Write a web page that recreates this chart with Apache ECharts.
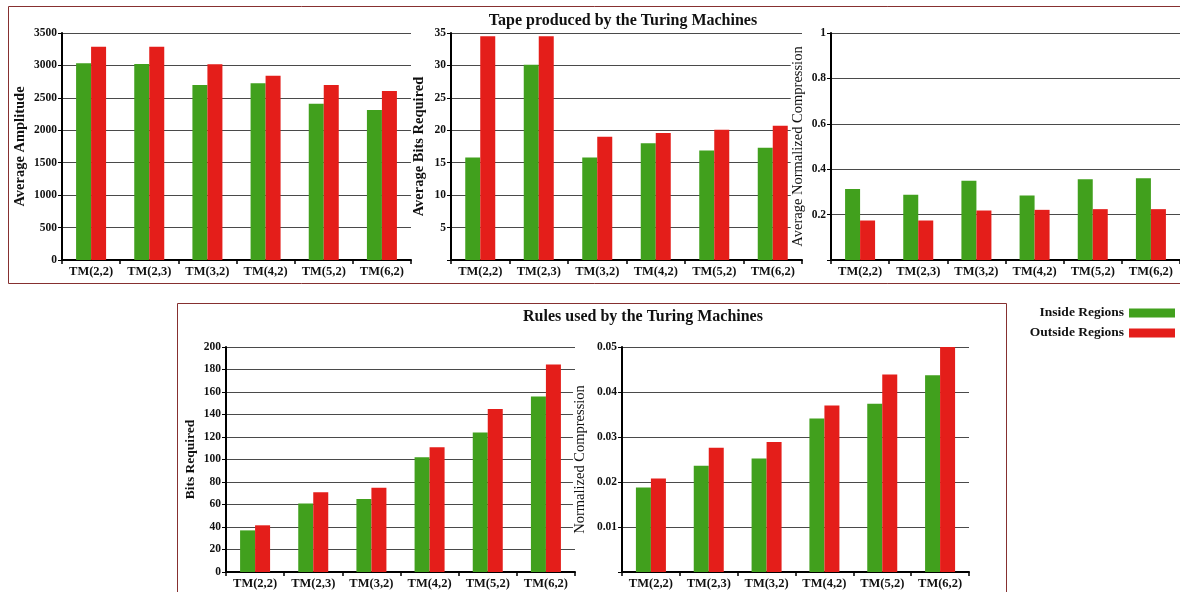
<!DOCTYPE html>
<html>
<head>
<meta charset="utf-8">
<title>Turing Machines: Inside vs Outside Regions</title>
<script src="https://cdn.jsdelivr.net/npm/echarts@6/dist/echarts.min.js"></script>
<style>
  html, body { margin: 0; padding: 0; background: #ffffff; }
  #chart { width: 1180px; height: 592px; }
</style>
</head>
<body>
<div id="chart"></div>
<script>
// Turing machine classes shown on every category axis
const machines = ['TM(2,2)', 'TM(2,3)', 'TM(3,2)', 'TM(4,2)', 'TM(5,2)', 'TM(6,2)'];
const seriesNames = ['Inside Regions', 'Outside Regions'];

// Tape produced by the machines
const tapeAmplitudeInside  = [3033, 3022, 2700, 2724, 2410, 2313];
const tapeAmplitudeOutside = [3289, 3289, 3017, 2840, 2700, 2606];
const tapeBitsInside  = [15.8, 30.1, 15.8, 18.0, 16.9, 17.3];
const tapeBitsOutside = [34.5, 34.5, 19.0, 19.6, 20.1, 20.7];
const tapeCompressionInside  = [0.313, 0.287, 0.349, 0.284, 0.356, 0.360];
const tapeCompressionOutside = [0.174, 0.174, 0.218, 0.221, 0.224, 0.224];

// Rules used by the machines
const ruleBitsInside  = [37, 61, 65, 102, 124, 156];
const ruleBitsOutside = [41.5, 71, 75, 111, 145, 184.5];
const ruleCompressionInside  = [0.0188, 0.0236, 0.0252, 0.0341, 0.0374, 0.0437];
const ruleCompressionOutside = [0.0208, 0.0276, 0.0289, 0.0370, 0.0439, 0.0500];

const FONT = '"Liberation Serif", "DejaVu Serif", serif';
const GREEN = '#41a01d';
const RED = '#e41e1a';
const FRAME = '#863030';

// One entry per small bar chart
const panels = [
  { grid: { left: 62, top: 33, width: 349, height: 227 },
    name: 'Average Amplitude', nameGap: 31, nameWeight: 'bold', nameSize: 14.5,
    max: 3500, interval: 500, showZero: true, fmt: v => String(v),
    inside: tapeAmplitudeInside, outside: tapeAmplitudeOutside },
  { grid: { left: 451, top: 33, width: 351, height: 227 },
    name: 'Average Bits Required', nameGap: 22, nameWeight: 'bold', nameSize: 14.5,
    max: 35, interval: 5, showZero: false, fmt: v => String(v),
    inside: tapeBitsInside, outside: tapeBitsOutside },
  { grid: { left: 831, top: 33, width: 349, height: 227 },
    name: 'Average Normalized Compression', nameGap: 22, nameWeight: 'normal', nameSize: 14.5,
    max: 1, interval: 0.2, showZero: false, fmt: v => String(+v.toFixed(1)),
    inside: tapeCompressionInside, outside: tapeCompressionOutside },
  { grid: { left: 226, top: 347, width: 349, height: 225 },
    name: 'Bits Required', nameGap: 23, nameWeight: 'bold', nameSize: 13.5,
    max: 200, interval: 20, showZero: true, fmt: v => String(v),
    inside: ruleBitsInside, outside: ruleBitsOutside },
  { grid: { left: 622, top: 347, width: 347, height: 225 },
    name: 'Normalized Compression', nameGap: 32, nameWeight: 'normal', nameSize: 14.5,
    max: 0.05, interval: 0.01, showZero: false, fmt: v => v.toFixed(2),
    inside: ruleCompressionInside, outside: ruleCompressionOutside }
];

const grids = [], xAxes = [], yAxes = [], series = [];
panels.forEach((p, i) => {
  grids.push(Object.assign({ containLabel: false }, p.grid));
  xAxes.push({
    type: 'category', gridIndex: i, data: machines,
    axisLine: { lineStyle: { color: '#000', width: 2 } },
    axisTick: { show: true, length: 4, lineStyle: { color: '#000', width: 1.5 } },
    axisLabel: { color: '#111', fontFamily: FONT, fontWeight: 'bold', fontSize: 12.5, margin: 5 }
  });
  yAxes.push({
    type: 'value', gridIndex: i, min: 0, max: p.max, interval: p.interval,
    name: p.name, nameLocation: 'middle', nameGap: p.nameGap,
    nameTextStyle: {
      color: '#111', fontFamily: FONT, fontWeight: p.nameWeight, fontSize: p.nameSize,
      backgroundColor: '#ffffff', padding: [0, 0, 2, 0]
    },
    axisLine: { show: true, lineStyle: { color: '#000', width: 2 } },
    axisTick: { show: true, length: 4, lineStyle: { color: '#000', width: 1 } },
    axisLabel: {
      color: '#111', fontFamily: FONT, fontWeight: 'bold', fontSize: 11.5, margin: 5,
      formatter: v => (v === 0 && !p.showZero) ? '' : p.fmt(v)
    },
    splitLine: { show: true, lineStyle: { color: '#4a4a4a', width: 1 } }
  });
  [p.inside, p.outside].forEach((vals, k) => {
    series.push({
      type: 'bar', name: seriesNames[k], xAxisIndex: i, yAxisIndex: i,
      data: vals, barWidth: 15, barGap: '0%',
      itemStyle: { color: k === 0 ? GREEN : RED },
      emphasis: { disabled: true }
    });
  });
});

const chart = echarts.init(document.getElementById('chart'), null, { renderer: 'canvas' });
chart.setOption({
  animation: false,
  backgroundColor: '#ffffff',
  title: [
    { text: 'Tape produced by the Turing Machines', left: 618, top: 8, textAlign: 'center',
      textStyle: { color: '#111', fontFamily: FONT, fontWeight: 'bold', fontSize: 16 } },
    { text: 'Rules used by the Turing Machines', left: 638, top: 304, textAlign: 'center',
      textStyle: { color: '#111', fontFamily: FONT, fontWeight: 'bold', fontSize: 16 } }
  ],
  legend: {
    orient: 'vertical', right: 0, top: 301, align: 'right', itemGap: 6,
    itemWidth: 46, itemHeight: 9, icon: 'rect', selectedMode: false,
    textStyle: { color: '#111', fontFamily: FONT, fontWeight: 'bold', fontSize: 13.5 },
    data: seriesNames
  },
  graphic: [
    { type: 'rect', silent: true, z: -1,
      shape: { x: 8.5, y: 6.5, width: 1180, height: 277 },
      style: { fill: null, stroke: FRAME, lineWidth: 1 } },
    { type: 'rect', silent: true, z: -1,
      shape: { x: 177.5, y: 303.5, width: 829, height: 300 },
      style: { fill: null, stroke: FRAME, lineWidth: 1 } }
  ],
  grid: grids,
  xAxis: xAxes,
  yAxis: yAxes,
  series: series
});
</script>
</body>
</html>
